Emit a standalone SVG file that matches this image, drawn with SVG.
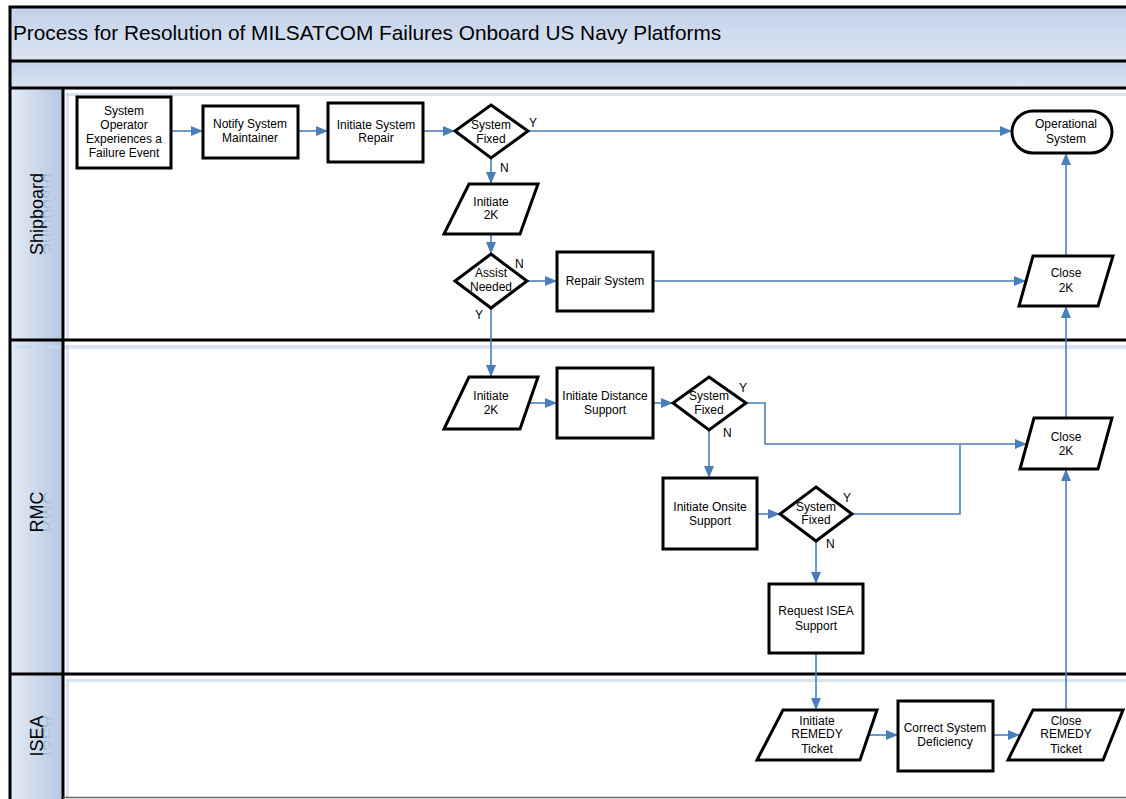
<svg xmlns="http://www.w3.org/2000/svg" width="1126" height="799" viewBox="0 0 1126 799">
<style>
.band{stroke:none}
.frame{stroke:#000;stroke-width:3;fill:none}
.node rect,.node polygon,.node path{fill:#fff;stroke:#000;stroke-width:3;stroke-linejoin:miter}
.t{font-family:"Liberation Sans",Arial,sans-serif;font-size:12px;fill:#000;text-anchor:middle}
.lbl{font-family:"Liberation Sans",Arial,sans-serif;font-size:12px;fill:#000}
.lane{font-family:"Liberation Sans",Arial,sans-serif;font-size:18px;fill:#000;text-anchor:middle}
.refl{font-family:"Liberation Sans",Arial,sans-serif;font-size:18px;fill:url(#gRefl);text-anchor:middle}
.conn path{fill:none;stroke:#4a7ebb;stroke-width:1.6}
.shade{fill:#c9d7ec;opacity:0.7}
</style>
<defs>
<linearGradient id="gTitle" x1="0" y1="0" x2="0" y2="1">
<stop offset="0" stop-color="#c3d2e9"/>
<stop offset="1" stop-color="#dbe4f1"/>
</linearGradient>
<linearGradient id="gLane" x1="0" y1="0" x2="1" y2="0">
<stop offset="0" stop-color="#e4ebf5"/>
<stop offset="1" stop-color="#b5c7e2"/>
</linearGradient>
<linearGradient id="gRefl" gradientUnits="userSpaceOnUse" x1="0" y1="0" x2="0" y2="-10">
<stop offset="0" stop-color="#6f8fc4" stop-opacity="0.55"/>
<stop offset="1" stop-color="#6f8fc4" stop-opacity="0"/>
</linearGradient>
<marker id="arr" markerUnits="userSpaceOnUse" markerWidth="12" markerHeight="10" refX="12" refY="5" orient="auto">
<path d="M0,0 L12,5 L0,10 z" fill="#4a7ebb"/>
</marker>
</defs>

<g id="background">
<rect x="0" y="0" width="1126" height="799" fill="#fff"/>
<rect class="band" x="10" y="7" width="1116" height="54" fill="url(#gTitle)"/>
<rect class="band" x="10" y="61" width="1116" height="27" fill="url(#gTitle)"/>
<rect class="band" x="10" y="88" width="53" height="711" fill="url(#gLane)"/>
<rect class="shade" x="66" y="93" width="1060" height="3" opacity="0.4"/>
<rect class="shade" x="66" y="93" width="3" height="247" opacity="0.4"/>
<rect class="shade" x="15" y="345" width="1111" height="4"/>
<rect class="shade" x="66" y="345" width="3" height="329" opacity="0.5"/>
<rect class="shade" x="66" y="679" width="1060" height="3"/>
<rect class="shade" x="66" y="679" width="3" height="118" opacity="0.5"/>
</g>

<g id="lane-labels">
<text class="refl" transform="translate(43,214) rotate(-90) scale(1,-1)">Shipboard</text>
<text class="lane" transform="translate(43,214) rotate(-90)">Shipboard</text>
<text class="refl" transform="translate(43,512) rotate(-90) scale(1,-1)">RMC</text>
<text class="lane" transform="translate(43,512) rotate(-90)">RMC</text>
<text class="refl" transform="translate(43,736) rotate(-90) scale(1,-1)">ISEA</text>
<text class="lane" transform="translate(43,736) rotate(-90)">ISEA</text>
</g>

<g id="frame">
<path class="frame" d="M1126,7 H10 V799"/>
<path class="frame" d="M10,61 H1126"/>
<path class="frame" d="M10,88 H1126"/>
<path class="frame" d="M10,340 H1126"/>
<path class="frame" d="M10,674 H1126"/>
<path class="frame" d="M63,88 V799"/>
<path d="M63,797.5 H1126" stroke="#666" stroke-width="1.5"/>
</g>

<g id="title">
<text x="13" y="40" font-family="'Liberation Sans',Arial,sans-serif" font-size="20.8" fill="#000">Process for Resolution of MILSATCOM Failures Onboard US Navy Platforms</text>
</g>

<g id="connectors" class="conn">
<path d="M171,131 H203" marker-end="url(#arr)"/>
<path d="M298,131 H328" marker-end="url(#arr)"/>
<path d="M423,131 H455" marker-end="url(#arr)"/>
<path d="M528,131 H1012" marker-end="url(#arr)"/>
<path d="M491,158 V184" marker-end="url(#arr)"/>
<path d="M491,234 V254" marker-end="url(#arr)"/>
<path d="M527,281 H557" marker-end="url(#arr)"/>
<path d="M653,281 H1026" marker-end="url(#arr)"/>
<path d="M1066,256 V153" marker-end="url(#arr)"/>
<path d="M491,308 V377" marker-end="url(#arr)"/>
<path d="M529,403 H557" marker-end="url(#arr)"/>
<path d="M653,403 H673" marker-end="url(#arr)"/>
<path d="M746,403 H765 V444 H1027" marker-end="url(#arr)"/>
<path d="M709,430 V478" marker-end="url(#arr)"/>
<path d="M757,514 H780" marker-end="url(#arr)"/>
<path d="M852,514 H960 V444"/>
<path d="M816,541 V584" marker-end="url(#arr)"/>
<path d="M816,653 V710" marker-end="url(#arr)"/>
<path d="M868,735 H898" marker-end="url(#arr)"/>
<path d="M993,735 H1020" marker-end="url(#arr)"/>
<path d="M1066,710 V469" marker-end="url(#arr)"/>
<path d="M1066,418 V306" marker-end="url(#arr)"/>
</g>

<g id="edge-labels">
<text class="lbl" x="529" y="127">Y</text>
<text class="lbl" x="500" y="172">N</text>
<text class="lbl" x="515" y="268">N</text>
<text class="lbl" x="475" y="319">Y</text>
<text class="lbl" x="739" y="392">Y</text>
<text class="lbl" x="723" y="437">N</text>
<text class="lbl" x="843" y="502">Y</text>
<text class="lbl" x="826" y="548">N</text>
</g>

<g id="n-failure" class="node">
<rect x="77" y="97" width="94" height="71"/>
<text class="t" x="124" y="115">System</text>
<text class="t" x="124" y="129">Operator</text>
<text class="t" x="124" y="143">Experiences a</text>
<text class="t" x="124" y="157">Failure Event</text>
</g>
<g id="n-notify" class="node">
<rect x="203" y="106" width="95" height="52"/>
<text class="t" x="250" y="128">Notify System</text>
<text class="t" x="250" y="142">Maintainer</text>
</g>
<g id="n-repair" class="node">
<rect x="328" y="103" width="95" height="59"/>
<text class="t" x="376" y="129">Initiate System</text>
<text class="t" x="376" y="142">Repair</text>
</g>
<g id="n-fixed1" class="node">
<polygon points="491,105 528,131 491,158 455,131"/>
<text class="t" x="491" y="129">System</text>
<text class="t" x="491" y="143">Fixed</text>
</g>
<g id="n-operational" class="node">
<rect x="1012" y="111" width="100" height="42" rx="21" ry="21"/>
<text class="t" x="1066" y="128">Operational</text>
<text class="t" x="1066" y="143">System</text>
</g>
<g id="n-init2k-ship" class="node">
<polygon points="469,184 538,184 520,234 444,234"/>
<text class="t" x="491" y="206">Initiate</text>
<text class="t" x="491" y="219">2K</text>
</g>
<g id="n-assist" class="node">
<polygon points="491,254 527,281 491,308 455,281"/>
<text class="t" x="491" y="277">Assist</text>
<text class="t" x="491" y="291">Needed</text>
</g>
<g id="n-repairsys" class="node">
<rect x="557" y="252" width="96" height="59"/>
<text class="t" x="605" y="285">Repair System</text>
</g>
<g id="n-close2k-ship" class="node">
<polygon points="1033,256 1113,256 1098,306 1019,306"/>
<text class="t" x="1066" y="277">Close</text>
<text class="t" x="1066" y="292">2K</text>
</g>
<g id="n-init2k-rmc" class="node">
<polygon points="469,377 538,377 520,429 444,429"/>
<text class="t" x="491" y="400">Initiate</text>
<text class="t" x="491" y="414">2K</text>
</g>
<g id="n-distance" class="node">
<rect x="557" y="368" width="96" height="70"/>
<text class="t" x="605" y="400">Initiate Distance</text>
<text class="t" x="605" y="414">Support</text>
</g>
<g id="n-fixed2" class="node">
<polygon points="709,377 746,403 709,430 673,403"/>
<text class="t" x="709" y="400">System</text>
<text class="t" x="709" y="414">Fixed</text>
</g>
<g id="n-close2k-rmc" class="node">
<polygon points="1034,418 1112,418 1098,469 1020,469"/>
<text class="t" x="1066" y="441">Close</text>
<text class="t" x="1066" y="455">2K</text>
</g>
<g id="n-onsite" class="node">
<rect x="663" y="478" width="94" height="71"/>
<text class="t" x="710" y="511">Initiate Onsite</text>
<text class="t" x="710" y="525">Support</text>
</g>
<g id="n-fixed3" class="node">
<polygon points="816,487 852,514 816,541 780,514"/>
<text class="t" x="816" y="511">System</text>
<text class="t" x="816" y="524">Fixed</text>
</g>
<g id="n-isea" class="node">
<rect x="769" y="584" width="94" height="69"/>
<text class="t" x="816" y="615">Request ISEA</text>
<text class="t" x="816" y="630">Support</text>
</g>
<g id="n-remedy-init" class="node">
<polygon points="783,710 877,710 860,760 757,760"/>
<text class="t" x="817" y="725">Initiate</text>
<text class="t" x="817" y="738">REMEDY</text>
<text class="t" x="817" y="753">Ticket</text>
</g>
<g id="n-correct" class="node">
<rect x="898" y="701" width="95" height="70"/>
<text class="t" x="945" y="732">Correct System</text>
<text class="t" x="945" y="746">Deficiency</text>
</g>
<g id="n-remedy-close" class="node">
<polygon points="1033,710 1123,710 1103,760 1008,760"/>
<text class="t" x="1066" y="725">Close</text>
<text class="t" x="1066" y="738">REMEDY</text>
<text class="t" x="1066" y="753">Ticket</text>
</g>
</svg>
